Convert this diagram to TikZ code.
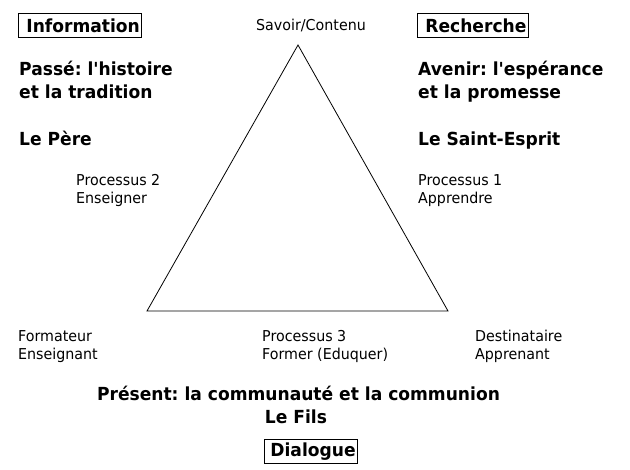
\documentclass[tikz,border=0pt]{standalone}
\usepackage{fontspec}
\setmainfont{DejaVu Sans}[FakeStretch=0.95,Ligatures=TeXOff]
\usetikzlibrary{positioning}
\frenchspacing

\begin{document}
\begin{tikzpicture}[x=1pt,y=-1pt,
  plain/.style={inner sep=0pt,anchor=base west,align=left,font=\fontsize{15}{18}\selectfont},
  heavy/.style={inner sep=0pt,anchor=base west,align=left,font=\fontsize{18}{23}\selectfont\bfseries},
  boxed/.style={heavy,draw,line width=0.8pt,anchor=north west,inner xsep=2pt,minimum height=24pt}]
\useasboundingbox (0,0) rectangle (630,470);
% the triangle
\coordinate (savoir) at (298,45);
\coordinate (apprenant) at (448,311);
\coordinate (enseignant) at (147,311);
\draw[line width=0.8pt] (savoir) -- (apprenant) -- (enseignant) -- cycle;
% corners (base = last line)
\node[plain,anchor=base] (savoirlbl) at (311,31) {Savoir/Contenu};
\node[plain] (formateur) at (18,360) {Formateur\\Enseignant};
\node[plain] (destinataire) at (475,360) {Destinataire\\Apprenant};
% processes
\node[plain] (proc2) at (76,204) {Processus 2\\Enseigner};
\node[plain] (proc1) at (418,204) {Processus 1\\Apprendre};
\node[plain] (proc3) at (262,360) {Processus 3\\Former (Eduquer)};
% left column
\node[boxed] (information) at (18,13) {\hspace{6pt}Information};
\node[heavy] (passe) at (19,99) {Pass\'e: l'histoire\\et la tradition};
\node[heavy] (pere) at (19,146) {Le P\`ere};
% right column
\node[boxed] (recherche) at (417,13) {\hspace{6pt}Recherche};
\node[heavy] (avenir) at (418,99) {Avenir: l'esp\'erance\\et la promesse};
\node[heavy] (esprit) at (418,146) {Le Saint-Esprit};
% bottom
\node[heavy,anchor=base] (present) at (298.5,401) {Pr\'esent: la communaut\'e et la communion};
\node[heavy,anchor=base] (fils) at (296,424) {Le Fils};
\node[boxed] (dialogue) at (264,439) {\hspace{4pt}Dialogue};
\end{tikzpicture}
\end{document}
